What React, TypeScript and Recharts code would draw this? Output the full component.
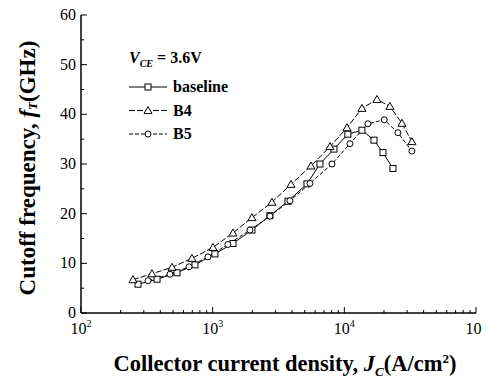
import { Line, LineChart, XAxis, YAxis } from 'recharts'

const baselineJ = [271, 378, 536, 734, 1040, 1426, 1987, 2722, 3733, 5203, 6530, 8340, 10640, 13600, 16800, 19650, 23400]
const baselineFt = [5.8, 6.8, 8.1, 9.7, 11.9, 14.0, 16.7, 19.6, 22.5, 26.0, 30.0, 33.0, 36.0, 36.8, 34.8, 32.3, 29.1]

const b4J = [248, 346, 491, 696, 1005, 1426, 1987, 2818, 3933, 5575, 7780, 10470, 13600, 17700, 22200, 27400, 32600]
const b4Ft = [6.7, 7.9, 9.2, 11.0, 13.2, 16.1, 19.2, 22.3, 25.9, 29.6, 33.5, 37.3, 41.2, 43.0, 41.6, 38.2, 34.5]

const b5J = [323, 474, 661, 921, 1306, 1919, 2722, 3863, 5485, 8050, 11040, 15100, 20100, 25500, 32600]
const b5Ft = [6.5, 7.8, 9.3, 11.3, 13.8, 16.7, 19.5, 22.6, 26.1, 30.0, 34.1, 38.1, 38.9, 36.3, 32.6]

const xMajor = [100, 1000, 10000, 100000]
const yMajor = [0, 10, 20, 30, 40, 50, 60]
const yMinor = [5, 15, 25, 35, 45, 55]

const xMinor: number[] = []
for (const d of [100, 1000, 10000]) {
  for (let k = 2; k <= 9; k++) xMinor.push(d * k)
}
const xTicks = [...xMajor, ...xMinor]
const yTicks = [...yMajor, ...yMinor]

const baselineData = baselineJ.map((j, i) => ({ j, ft: baselineFt[i] }))
const b4Data = b4J.map((j, i) => ({ j, ft: b4Ft[i] }))
const b5Data = b5J.map((j, i) => ({ j, ft: b5Ft[i] }))

const FONT = '"Liberation Serif", "Times New Roman", serif'
// the chart's svg sits this far from the page top
const TOP = 2

type Shape = 'square' | 'triangle' | 'circle'

function markerPath(shape: Shape, cx: number, cy: number) {
  if (shape === 'square') return <rect x={cx - 3} y={cy - 3} width={6} height={6} fill="#fff" stroke="#000" strokeWidth={1} />
  if (shape === 'triangle') return <path d={`M${cx},${cy - 4} L${cx + 4},${cy + 3} L${cx - 4},${cy + 3} Z`} fill="#fff" stroke="#000" strokeWidth={1} />
  return <circle cx={cx} cy={cy} r={3} fill="#fff" stroke="#000" strokeWidth={1} />
}

function makeDot(shape: Shape) {
  return (props: any) => {
    const { cx, cy, index } = props
    if (cx == null || cy == null) return <g key={`${shape}-${index}`} />
    return <g key={`${shape}-${index}`}>{markerPath(shape, cx, cy)}</g>
  }
}

function BottomTick(props: any) {
  const { x, y, payload } = props
  const v = payload.value as number
  const major = xMajor.includes(v)
  const exp = Math.round(Math.log10(v))
  return (
    <g>
      <line x1={x} y1={y} x2={x} y2={y - (major ? 6 : 3)} stroke="#000" />
      {major && (
        <text x={x} y={y + 21} textAnchor="middle" fontFamily={FONT} fontSize={16} fill="#000">
          10<tspan dy={-7} fontSize={10}>{exp}</tspan>
        </text>
      )}
    </g>
  )
}

function TopTick(props: any) {
  const { x, y, payload } = props
  const major = xMajor.includes(payload.value)
  return <line x1={x} y1={y} x2={x} y2={y + (major ? 6 : 3)} stroke="#000" />
}

function LeftTick(props: any) {
  const { x, y, payload } = props
  const major = yMajor.includes(payload.value)
  return (
    <g>
      <line x1={x} y1={y} x2={x + (major ? 6 : 3)} y2={y} stroke="#000" />
      {major && (
        <text x={x - 5} y={y + 5} textAnchor="end" fontFamily={FONT} fontSize={16} fill="#000">
          {payload.value}
        </text>
      )}
    </g>
  )
}

function RightTick(props: any) {
  const { x, y, payload } = props
  const major = yMajor.includes(payload.value)
  return <line x1={x} y1={y} x2={x - (major ? 6 : 3)} y2={y} stroke="#000" />
}

function XLabel() {
  const cx = 285 - 8
  return (
    <text x={cx} y={371 - TOP} textAnchor="middle" fontFamily={FONT} fontSize={22.5} fontWeight="bold" fill="#000">
      Collector current density, <tspan fontStyle="italic">J</tspan>
      <tspan dy={5} fontSize={13} fontStyle="italic">C</tspan>
      <tspan dy={-5}>(A/cm</tspan>
      <tspan dy={-8} fontSize={13}>2</tspan>
      <tspan dy={8}>)</tspan>
    </text>
  )
}

function YLabel() {
  const cy = 168 - TOP
  const cx = 27 - 8
  return (
    <text x={cx} y={cy} transform={`rotate(-90 ${cx} ${cy})`} textAnchor="middle" dominantBaseline="central" fontFamily={FONT} fontSize={23} fontWeight="bold" fill="#000">
      Cutoff frequency, <tspan fontStyle="italic">f</tspan>
      <tspan dy={5} fontSize={13} fontStyle="italic">T</tspan>
      <tspan dy={-5}>(GHz)</tspan>
    </text>
  )
}

const legendRows: { name: string; shape: Shape; dash?: string }[] = [
  { name: 'baseline', shape: 'square' },
  { name: 'B4', shape: 'triangle', dash: '6 2' },
  { name: 'B5', shape: 'circle', dash: '4 2' },
]

function LegendBox() {
  return (
    <svg width={130} height={95} style={{ position: 'absolute', left: 119, top: 47 - TOP }}>
      <text x={2} y={16} fontFamily={FONT} fontSize={16} fontWeight="bold" fill="#000">
        <tspan fontStyle="italic">V</tspan>
        <tspan dy={4} fontSize={10} fontStyle="italic">CE</tspan>
        <tspan dy={-4}> = 3.6V</tspan>
      </text>
      {legendRows.map((r, i) => {
        const y = 40 + i * 23.5
        return (
          <g key={r.name}>
            <line x1={2} y1={y} x2={40} y2={y} stroke="#000" strokeDasharray={r.dash} />
            {markerPath(r.shape, 21, y)}
            <text x={46} y={y + 5} fontFamily={FONT} fontSize={16} fontWeight="bold" fill="#000">
              {r.name}
            </text>
          </g>
        )
      })}
    </svg>
  )
}

export default function App() {
  return (
    <div style={{ position: 'relative', width: 482, height: 376, marginTop: TOP - 8 }}>
      <LineChart width={482} height={376} margin={{ top: 15 - TOP, right: 14, bottom: 35, left: 28 }}>
        <XAxis
          dataKey="j"
          type="number"
          scale="log"
          domain={[100, 100000]}
          allowDataOverflow
          ticks={xTicks}
          interval={0}
          tickSize={0}
          tickMargin={0}
          tickLine={false}
          axisLine={{ stroke: '#000', strokeWidth: 1.5 }}
          height={30}
          tick={BottomTick}
          label={<XLabel />}
        />
        <XAxis
          xAxisId="top"
          orientation="top"
          type="number"
          scale="log"
          domain={[100, 100000]}
          allowDataOverflow
          ticks={xTicks}
          interval={0}
          tickSize={0}
          tickMargin={0}
          tickLine={false}
          axisLine={{ stroke: '#000', strokeWidth: 1.5 }}
          height={0}
          tick={TopTick}
        />
        <YAxis
          type="number"
          domain={[0, 60]}
          ticks={yTicks}
          interval={0}
          tickSize={0}
          tickMargin={0}
          tickLine={false}
          axisLine={{ stroke: '#000', strokeWidth: 1.5 }}
          width={45}
          tick={LeftTick}
          label={<YLabel />}
        />
        <YAxis
          yAxisId="right"
          orientation="right"
          type="number"
          domain={[0, 60]}
          ticks={yTicks}
          interval={0}
          tickSize={0}
          tickMargin={0}
          tickLine={false}
          axisLine={{ stroke: '#000', strokeWidth: 1.5 }}
          width={0}
          tick={RightTick}
        />
        <Line data={baselineData} dataKey="ft" name="baseline" stroke="#000" strokeWidth={1} dot={makeDot('square')} isAnimationActive={false} />
        <Line data={b4Data} dataKey="ft" name="B4" stroke="#000" strokeWidth={1} strokeDasharray="6 2" dot={makeDot('triangle')} isAnimationActive={false} />
        <Line data={b5Data} dataKey="ft" name="B5" stroke="#000" strokeWidth={1} strokeDasharray="4 2" dot={makeDot('circle')} isAnimationActive={false} />
      </LineChart>
      <LegendBox />
    </div>
  )
}
